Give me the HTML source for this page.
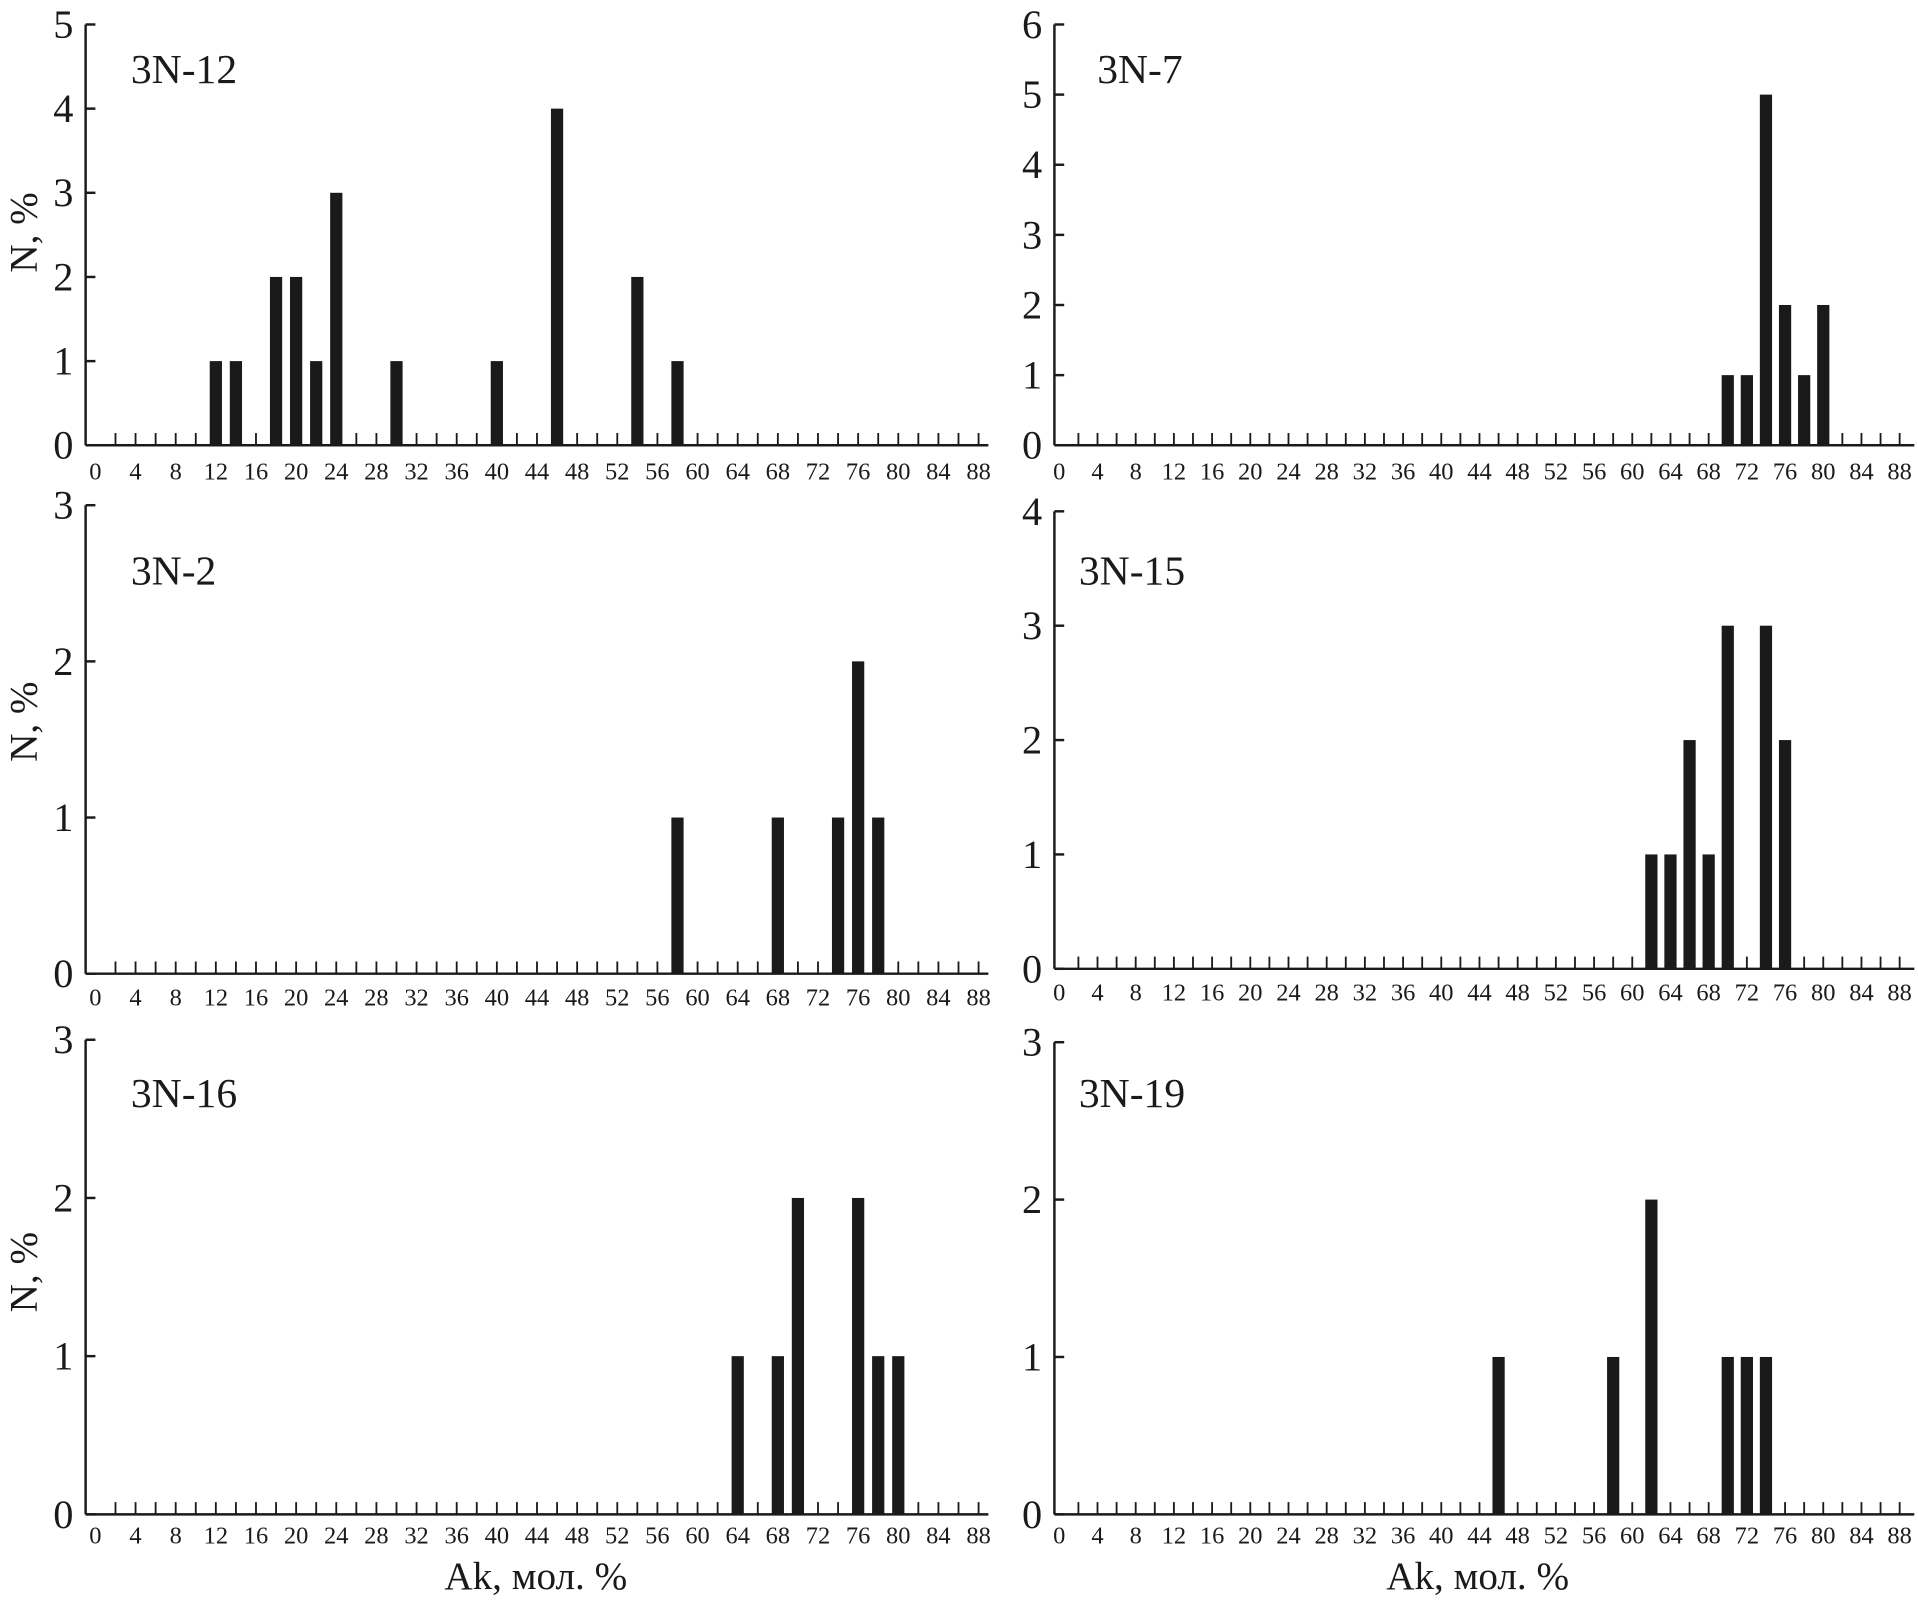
<!DOCTYPE html>
<html><head><meta charset="utf-8"><style>
html,body{margin:0;padding:0;background:#fff}
svg{display:block}
text{font-family:"Liberation Serif",serif;fill:#1a1a1a}
</style></head><body>
<svg id="chart" width="1918" height="1600" viewBox="0 0 1568 1308" xmlns="http://www.w3.org/2000/svg"></svg>
<script>
const xTickLabels = [0,4,8,12,16,20,24,28,32,36,40,44,48,52,56,60,64,68,72,76,80,84,88];
const names = ["3N-12","3N-7","3N-2","3N-15","3N-16","3N-19"];
const ymaxs = [5,6,3,4,3,3];
const cats1 = [12,14,18,20,22,24,30,40,46,54,58];
const vals1 = [1,1,2,2,1,3,1,1,4,2,1];
const cats2 = [70,72,74,76,78,80];
const vals2 = [1,1,5,2,1,2];
const cats3 = [58,68,74,76,78];
const vals3 = [1,1,1,2,1];
const cats4 = [62,64,66,68,70,74,76];
const vals4 = [1,1,2,1,3,3,2];
const cats5 = [64,68,70,76,78,80];
const vals5 = [1,1,2,2,1,1];
const cats6 = [46,58,62,70,72,74];
const vals6 = [1,1,2,1,1,1];
const allCats=[cats1,cats2,cats3,cats4,cats5,cats6];
const allVals=[vals1,vals2,vals3,vals4,vals5,vals6];

const NS="http://www.w3.org/2000/svg";
const svg=document.getElementById('chart');
function mk(tag,attrs,parent){const e=document.createElementNS(NS,tag);for(const k in attrs)e.setAttribute(k,attrs[k]);(parent||svg).appendChild(e);return e;}

const layouts=[
 {ax:70,x0:78,x88:800,xend:808,top:20,zero:364,tx:107,ty:68,lab:392},
 {ax:862,x0:866,x88:1553,xend:1565,top:20,zero:364,tx:897,ty:68,lab:392},
 {ax:70,x0:78,x88:800,xend:808,top:413,zero:796,tx:107,ty:478,lab:822},
 {ax:862,x0:866,x88:1553,xend:1565,top:418,zero:792,tx:882,ty:478,lab:818},
 {ax:70,x0:78,x88:800,xend:808,top:850,zero:1238,tx:107,ty:905,lab:1262},
 {ax:862,x0:866,x88:1553,xend:1565,top:852,zero:1238,tx:882,ty:905,lab:1262}
];
layouts.forEach((L,i)=>{
  const g=mk('g',{});
  
  
  const xs=v=>L.x0+(L.x88-L.x0)*v/88;
  const ys=v=>L.zero-(L.zero-L.top)*v/ymaxs[i];
  const ya=mk('line',{x1:L.ax,y1:L.top,x2:L.ax,y2:L.zero,stroke:'#1a1a1a','stroke-width':2},g);
  
  
  const xa=mk('line',{x1:L.ax,y1:L.zero,x2:L.xend,y2:L.zero,stroke:'#1a1a1a','stroke-width':2},g);
  
  
  for(let v=0;v<=ymaxs[i];v++){
    mk('line',{x1:L.ax,y1:ys(v),x2:L.ax+8,y2:ys(v),stroke:'#1a1a1a','stroke-width':2},g);
    const t=mk('text',{x:L.ax-10,y:ys(v)+11,'text-anchor':'end','font-size':33},g);
    t.textContent=v;
    
    
  }
  for(let v=2;v<=88;v+=2){
    mk('line',{x1:xs(v),y1:L.zero,x2:xs(v),y2:L.zero-10,stroke:'#1a1a1a','stroke-width':1.5},g);
  }
  xTickLabels.forEach(v=>{
    const t=mk('text',{x:xs(v),y:L.lab,'text-anchor':'middle','font-size':20},g);
    t.textContent=v;
    
    
  });
  allCats[i].forEach((c,j)=>{
    const v=allVals[i][j];
    const r=mk('rect',{x:xs(c)-5,y:ys(v),width:10,height:L.zero-ys(v),fill:'#1a1a1a'},g);
    
    
  });
  const tt=mk('text',{x:L.tx,y:L.ty,'font-size':34},g);
  tt.textContent=names[i];
  
  
});
[190,590,1040].forEach(cy=>{
  const t=mk('text',{x:0,y:0,'text-anchor':'middle','font-size':32,transform:`translate(30,${cy}) rotate(-90)`});
  t.textContent='N, %';
  
  
});
[438,1208].forEach(cx=>{
  const t=mk('text',{x:cx,y:1299,'text-anchor':'middle','font-size':32});
  t.textContent='Ak, мол. %';
  
  
});
</script>
</body></html>
